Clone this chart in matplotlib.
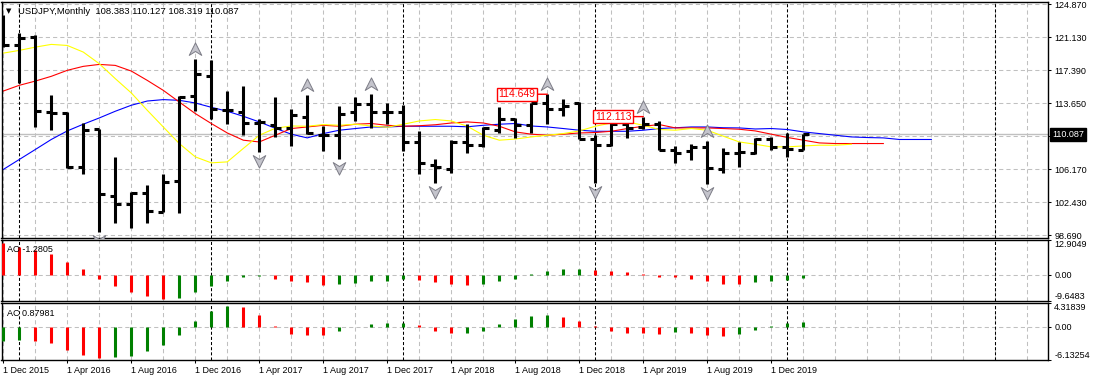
import matplotlib
matplotlib.use("Agg")
import matplotlib.pyplot as plt
import matplotlib.transforms as mtransforms
from matplotlib.path import Path

plt.rcParams['font.family'] = ['Liberation Sans', 'DejaVu Sans']
plt.rcParams['lines.scale_dashes'] = False

symbol = "USDJPY,Monthly"

# monthly bars, Dec 2015 .. Feb 2020
opens = [123.05, 120.26, 121.12, 112.64, 112.50, 106.42, 110.68, 103.14, 102.16, 103.41,
         101.33, 104.80, 114.40, 116.68, 112.83, 112.64, 111.39, 111.13, 110.83, 112.07,
         110.08, 110.00, 112.64, 113.51, 112.60, 112.64, 109.18, 106.61, 106.15, 109.24,
         108.87, 110.57, 111.83, 111.13, 113.66, 112.94, 113.60, 109.63, 108.95, 111.33,
         110.94, 111.33, 108.30, 108.23, 108.68, 106.15, 108.00, 108.00, 109.55, 108.68,
         108.383]
highs = [123.58, 121.62, 121.31, 114.53, 112.60, 111.44, 110.76, 107.55, 103.60, 104.35,
         105.59, 114.40, 118.68, 118.56, 115.01, 115.55, 111.89, 114.37, 112.94, 114.53,
         111.02, 113.28, 114.34, 114.72, 113.70, 113.47, 110.45, 107.27, 109.44, 111.33,
         110.90, 113.20, 112.00, 113.66, 114.649, 114.10, 113.77, 110.00, 111.39, 112.15,
         112.113, 111.62, 108.79, 109.06, 109.32, 108.50, 109.24, 109.70, 109.81, 110.31,
         110.127]
lows = [119.99, 115.92, 110.94, 110.57, 106.23, 105.56, 98.99, 100.01, 99.52, 100.08,
        101.26, 101.14, 112.72, 111.89, 111.33, 110.08, 108.11, 109.81, 108.79, 110.19,
        108.23, 107.30, 111.66, 110.85, 111.29, 108.23, 105.56, 104.61, 105.67, 108.00,
        108.68, 110.26, 109.72, 110.26, 111.33, 112.15, 109.52, 104.60, 108.76, 109.70,
        110.76, 108.30, 106.80, 107.25, 104.42, 105.74, 106.42, 107.85, 108.38, 107.55,
        108.319]
closes = [120.26, 121.00, 112.75, 112.55, 106.42, 110.57, 103.29, 102.16, 103.41, 101.44,
          104.72, 114.34, 116.90, 113.00, 112.91, 111.39, 111.50, 110.83, 112.30, 110.26,
          110.08, 112.38, 113.51, 112.60, 112.64, 109.24, 106.80, 106.40, 109.24, 108.87,
          110.83, 111.89, 111.13, 113.66, 112.94, 113.30, 109.63, 108.95, 111.33, 110.85,
          111.25, 108.30, 107.95, 108.68, 106.30, 108.00, 108.11, 109.55, 108.68, 108.42,
          110.087]

# alligator lines (shifted forward past the last bar)
jaw = [106.12, 107.25, 108.38, 109.52, 110.49, 111.25, 111.96, 112.72, 113.40, 113.88,
       114.04, 113.96, 113.66, 113.17, 112.72, 112.15, 111.51, 110.79, 110.12, 109.70,
       110.19, 110.57, 110.76, 110.94, 110.94, 111.02, 111.02, 111.02, 111.02, 110.96,
       111.13, 111.25, 111.33, 111.05, 110.94, 110.76, 110.57, 110.45, 110.45, 110.45,
       110.57, 110.76, 110.85, 110.94, 110.94, 110.85, 110.83, 110.71, 110.76, 110.65,
       110.38, 110.19, 110.00, 109.81, 109.74, 109.70, 109.52, 109.52, 109.52]
teeth = [115.01, 115.66, 116.14, 116.68, 117.36, 117.81, 118.03, 117.92, 117.28, 116.22,
         115.09, 113.77, 112.46, 111.33, 110.26, 109.44, 109.24, 110.00, 110.76, 110.94,
         111.13, 111.02, 111.25, 111.33, 111.13, 111.02, 111.08, 111.19, 111.39, 111.51,
         111.39, 111.02, 110.38, 110.12, 110.00, 110.12, 110.26, 110.31, 110.45, 110.76,
         111.02, 111.21, 110.83, 110.83, 110.83, 110.76, 110.68, 110.49, 110.12, 109.75,
         109.44, 109.13, 109.06, 109.06, 109.06, 109.06]
lips = [119.31, 119.62, 119.99, 120.30, 120.18, 119.43, 118.11, 116.42, 114.80, 112.83,
        110.94, 109.06, 107.55, 106.87, 106.98, 108.50, 110.00, 110.79, 111.05, 111.02,
        111.21, 111.13, 111.25, 111.05, 110.91, 111.25, 111.62, 111.78, 111.62, 111.02,
        110.00, 109.44, 109.57, 109.81, 110.00, 110.19, 110.49, 111.02, 111.39, 111.51,
        111.13, 110.65, 110.57, 110.76, 110.57, 109.89, 109.24, 108.98, 108.68, 108.68,
        108.79, 108.87, 108.87, 108.98]

up_fractals = [12, 19, 23, 34, 40, 44]
down_fractals = [6, 16, 21, 27, 37, 44]
labelled_highs = [34, 40]

ao = [11.77, 10.25, 9.24, 7.72, 4.68, 2.15, -1.39, -4.05, -6.45, -7.84,
      -8.98, -8.48, -6.45, -4.05, -2.15, -0.63, -0.50, -1.39, -2.40, -2.78,
      -3.67, -3.29, -2.91, -2.40, -2.15, -1.60, -1.80, -2.78, -3.29, -3.67,
      -3.29, -2.40, -1.39, 0.50, 1.39, 2.15, 2.25, 1.77, 1.39, 1.01,
      0.25, -0.63, -0.70, -1.39, -2.15, -3.29, -3.35, -2.85, -2.40, -1.90,
      -1.2805]
ao_colors = "rrrrrrrrrrr" + "gggggg" + "rrrr" + "ggggg" + "rrrr" + "ggggggg" + "rrrrrrrrrr" + "gggg"
ac = [-2.61, -2.48, -2.61, -2.92, -4.29, -5.22, -5.71, -5.65, -5.34, -4.47,
      -3.35, -1.49, 1.12, 2.98, 3.73, 3.70, 2.24, 0.19, -1.30, -1.49,
      -1.50, -0.75, -0.12, 0.56, 0.60, 0.75, 0.37, -0.75, -1.12, -1.10,
      -0.75, 0.56, 1.49, 2.05, 2.11, 1.86, 1.12, 0.12, -0.75, -1.12,
      -1.15, -1.30, -0.93, -1.12, -1.49, -1.68, -1.30, -0.56, 0.19, 0.70,
      0.87981]
ac_colors = "gg" + "rrrrr" + "gggggggg" + "rrrrrr" + "ggggg" + "rrr" + "gggggg" + "rrrrrrr" + "g" + "rrr" + "ggggg"

price_ticks = [98.690, 102.430, 106.170, 109.910, 113.650, 117.390, 121.130, 124.870]
ao_range = [-9.6483, 12.9049]
ac_range = [-6.13254, 4.31839]

date_labels = ["1 Dec 2015", "1 Apr 2016", "1 Aug 2016", "1 Dec 2016", "1 Apr 2017",
               "1 Aug 2017", "1 Dec 2017", "1 Apr 2018", "1 Aug 2018", "1 Dec 2018",
               "1 Apr 2019", "1 Aug 2019", "1 Dec 2019"]
date_pos = list(range(0, 49, 4))
year_sep = [1, 13, 25, 37, 49, 62]

colmap = {'g': '#008000', 'r': '#ff0000'}
n = len(closes)
idx = list(range(n))

W, H = 1093, 381
fig = plt.figure(figsize=(W / 100, H / 100), dpi=100)


def rect(x0, y0, x1, y1):
    return [x0 / W, 1 - y1 / H, (x1 - x0) / W, (y1 - y0) / H]


ax = fig.add_axes(rect(1.5, 2, 1048, 238))
ao_ax = fig.add_axes(rect(1.5, 240.3, 1048, 300.7), sharex=ax)
ac_ax = fig.add_axes(rect(1.5, 303.3, 1048, 360), sharex=ax)

grid_kw = dict(color='#c0c0c0', lw=0.75, dashes=(3, 2.2), zorder=0.5)
sep_kw = dict(color='black', lw=0.75, dashes=(2.2, 1.5), zorder=0.9)

for a in (ax, ao_ax, ac_ax):
    for x in range(0, 66, 2):
        a.axvline(x, **grid_kw)
    for x in year_sep:
        a.axvline(x, **sep_kw)
    for s in a.spines.values():
        s.set_linewidth(1.0)
    a.yaxis.tick_right()
    a.tick_params(axis='y', direction='out', length=2.5, width=0.75, pad=2, labelsize=6.5)
    a.tick_params(axis='x', direction='out', length=2.5, width=0.75, pad=1.5, labelsize=6.5)
ax.set_xlim(-0.11, 65.29)
ax.tick_params(axis='x', bottom=False, labelbottom=False)
ao_ax.tick_params(axis='x', bottom=False, labelbottom=False)

# price pane
ax.set_ylim(98.35, 125.107)
for p in price_ticks:
    ax.axhline(p, **grid_kw)
ax.set_yticks(price_ticks)
ax.set_yticklabels(['' if abs(p - 109.91) < 0.01 else '%.3f' % p for p in price_ticks])
ax.axhline(closes[-1], color='#c0c0c0', lw=1.0, zorder=0.8)

ax.plot(range(len(jaw)), jaw, color='#0000ff', lw=0.8, zorder=2)
ax.plot(range(len(teeth)), teeth, color='#ff0000', lw=0.8, zorder=2)
ax.plot(range(len(lips)), lips, color='#ffff00', lw=0.8, zorder=2)

ax.vlines(idx, lows, highs, color='black', lw=2.2, zorder=3)
ax.hlines(opens, [i - 0.34 for i in idx], idx, color='black', lw=2.2, zorder=3)
ax.hlines(closes, idx, [i + 0.34 for i in idx], color='black', lw=2.2, zorder=3)

up_arrow = Path([(0, 1), (0.95, -0.9), (0, -0.3), (-0.95, -0.9), (0, 1)],
                [Path.MOVETO, Path.LINETO, Path.LINETO, Path.LINETO, Path.CLOSEPOLY])
down_arrow = Path([(0, -1), (0.95, 0.9), (0, 0.3), (-0.95, 0.9), (0, -1)],
                  [Path.MOVETO, Path.LINETO, Path.LINETO, Path.LINETO, Path.CLOSEPOLY])
up_shift = ax.transData + mtransforms.ScaledTranslation(0, 0.10, fig.dpi_scale_trans)
dn_shift = ax.transData + mtransforms.ScaledTranslation(0, -0.09, fig.dpi_scale_trans)
ax.plot(up_fractals, [highs[i] for i in up_fractals], ls='none', marker=up_arrow, ms=9.5,
        mfc='#c4c4cc', mec='#7c7c86', mew=0.7, transform=up_shift, zorder=4)
ax.plot(down_fractals, [lows[i] for i in down_fractals], ls='none', marker=down_arrow, ms=9.5,
        mfc='#c4c4cc', mec='#7c7c86', mew=0.7, transform=dn_shift, zorder=4)

for i in labelled_highs:
    ax.annotate('%.3f' % highs[i], xy=(i, highs[i]), xytext=(-12, 0), textcoords='offset pixels',
                ha='right', va='center', color='#ff0000', size=7.5, zorder=5,
                bbox=dict(boxstyle='square,pad=0.15', fc='white', ec='#ff0000', lw=1),
                arrowprops=dict(arrowstyle='-', color='#ff0000', lw=1, shrinkA=0, shrinkB=0))

ax.annotate('%.3f' % closes[-1], xy=(1, closes[-1]), xycoords=('axes fraction', 'data'),
            xytext=(4, 0), textcoords='offset pixels', ha='left', va='center', color='white',
            size=6.5, annotation_clip=False,
            bbox=dict(boxstyle='square,pad=0.25', fc='black', ec='black'))

fig.text(6 / W, 1 - 11 / H, '\u25bc', size=5, va='center', family=['DejaVu Sans'])
fig.text(18 / W, 1 - 11 / H, '%s  %.3f %.3f %.3f %.3f' % (symbol, opens[-1], highs[-1], lows[-1], closes[-1]),
         size=6.8, va='center')

# AO pane
ao_ax.vlines(idx, 0, ao, colors=[colmap[c] for c in ao_colors], lw=2.2, zorder=3)
ao_ax.axhline(0, **grid_kw)
ao_ax.set_ylim(ao_range)
ao_ax.set_yticks([ao_range[0], 0, ao_range[1]])
ao_ax.set_yticklabels(['%.4f' % ao_range[0], '0.00', '%.4f' % ao_range[1]])
labs = ao_ax.get_yticklabels()
labs[0].set_va('bottom')
labs[2].set_va('top')
fig.text(7 / W, 1 - 250 / H, 'AO %s' % ao[-1], size=6.5, va='center')

# AC pane
ac_ax.vlines(idx, 0, ac, colors=[colmap[c] for c in ac_colors], lw=2.2, zorder=3)
ac_ax.axhline(0, **grid_kw)
ac_ax.set_ylim(ac_range)
ac_ax.set_yticks([ac_range[0], 0, ac_range[1]])
ac_ax.set_yticklabels(['%.5f' % ac_range[0], '0.00', '%.5f' % ac_range[1]])
labs = ac_ax.get_yticklabels()
labs[0].set_va('bottom')
labs[2].set_va('top')
fig.text(7 / W, 1 - 313 / H, 'AC %s' % ac[-1], size=6.5, va='center')

ac_ax.set_xticks(date_pos)
ac_ax.set_xticklabels(date_labels, ha='left')

fig.savefig('out.png', dpi=100)
